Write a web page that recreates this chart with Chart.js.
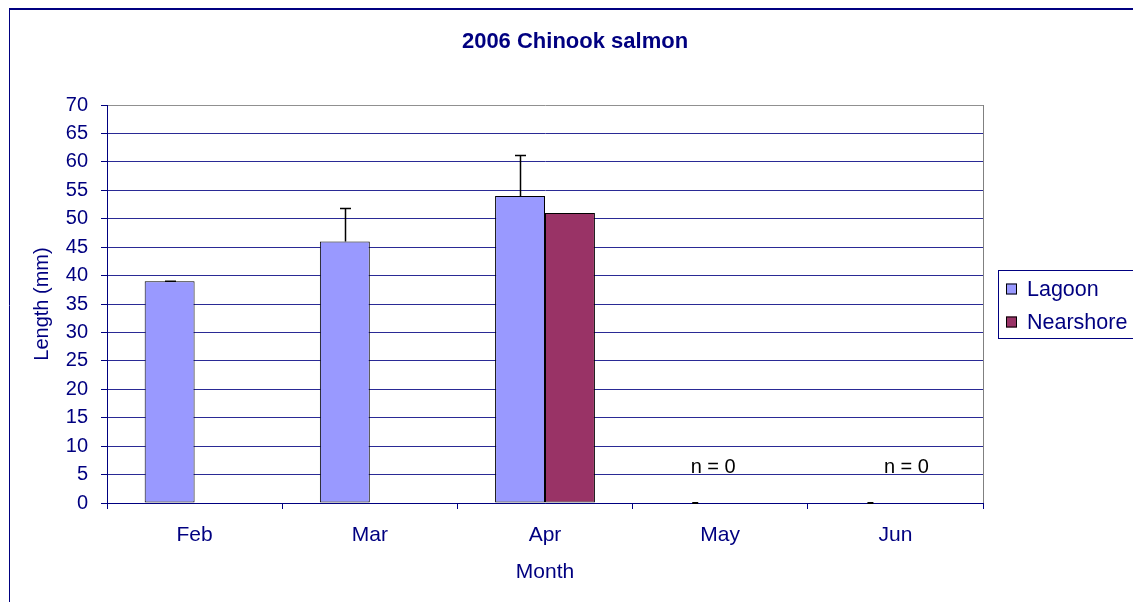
<!DOCTYPE html>
<html>
<head>
<meta charset="utf-8">
<script src="https://cdn.jsdelivr.net/npm/chart.js@4.4.1/dist/chart.umd.min.js"></script>
<style>
  html, body { margin: 0; padding: 0; background: #ffffff; }
  #wrap { width: 1133px; height: 602px; position: relative; }
</style>
</head>
<body>
<div id="wrap"><canvas id="c" width="1133" height="602"></canvas></div>
<script>
// ---- data ----
const chartTitle = '2006 Chinook salmon';
const months = ['Feb', 'Mar', 'Apr', 'May', 'Jun'];
const lagoon = [39, 46, 54, 0, 0];
const lagoonErr = [0, 5.8, 7.1, null, null];
const nearshore = [null, null, 51, null, null];
const yTicks = [0, 5, 10, 15, 20, 25, 30, 35, 40, 45, 50, 55, 60, 65, 70];
const noteMonths = ['May', 'Jun'];
const noteValues = [6.2, 6.2];
const noteTexts = ['n = 0', 'n = 0'];
const noteShift = [-7, 11];

const NAVY = '#000080';
const GRID = '#2a2a95';
const FONT = "'Liberation Sans', Arial, sans-serif";

const framePlugin = {
  id: 'frame',
  beforeDraw(chart) {
    const ctx = chart.ctx;
    ctx.save();
    ctx.fillStyle = '#ffffff';
    ctx.fillRect(0, 0, chart.width, chart.height);
    ctx.strokeStyle = NAVY;
    ctx.lineWidth = 2;
    ctx.beginPath();
    ctx.moveTo(9, 9); ctx.lineTo(chart.width, 9);
    ctx.stroke();
    ctx.lineWidth = 1;
    ctx.beginPath();
    ctx.moveTo(9.5, 9); ctx.lineTo(9.5, chart.height);
    ctx.stroke();
    // title
    ctx.fillStyle = NAVY;
    ctx.font = 'bold 22px ' + FONT;
    ctx.textAlign = 'center';
    ctx.textBaseline = 'middle';
    ctx.fillText(chartTitle, 575, 42);
    ctx.restore();
  },
  afterDraw(chart) {
    const ctx = chart.ctx;
    const a = chart.chartArea;
    const y = chart.scales.y;
    const x = chart.scales.x;
    ctx.save();
    // right plot border (grey)
    ctx.strokeStyle = '#808080';
    ctx.lineWidth = 1;
    ctx.beginPath();
    ctx.moveTo(Math.round(a.right) + 0.5, a.top);
    ctx.lineTo(Math.round(a.right) + 0.5, a.bottom);
    ctx.stroke();

    // error bars on Lagoon
    const meta = chart.getDatasetMeta(0);
    ctx.strokeStyle = '#000000';
    ctx.lineWidth = 1.5;
    lagoonErr.forEach((e, i) => {
      if (e === null || lagoon[i] === null) return;
      const bar = meta.data[i];
      const cx = Math.round(bar.x) + 0.5;
      const yTop = y.getPixelForValue(lagoon[i]);
      const yErr = y.getPixelForValue(lagoon[i] + e);
      ctx.beginPath();
      ctx.moveTo(cx, yTop); ctx.lineTo(cx, yErr);
      ctx.moveTo(cx - 5.5, yErr); ctx.lineTo(cx + 5.5, yErr);
      ctx.stroke();
    });
    // zero-height bar dashes
    ctx.lineWidth = 2;
    lagoon.forEach((v, i) => {
      if (v !== 0) return;
      const bar = meta.data[i];
      const yb = y.getPixelForValue(0);
      ctx.beginPath();
      ctx.moveTo(bar.x - 3, yb); ctx.lineTo(bar.x + 3, yb);
      ctx.stroke();
    });

    // n = 0 notes
    ctx.fillStyle = '#000000';
    ctx.font = '20px ' + FONT;
    ctx.textAlign = 'center';
    ctx.textBaseline = 'middle';
    noteMonths.forEach((m, i) => {
      const px = x.getPixelForValue(months.indexOf(m)) + noteShift[i];
      const py = y.getPixelForValue(noteValues[i]);
      ctx.fillText(noteTexts[i], px, py);
    });

    // legend
    const lx = 998.5, ly = 270.5, lw = 160, lh = 68;
    ctx.strokeStyle = NAVY;
    ctx.lineWidth = 1;
    ctx.strokeRect(lx, ly, lw, lh);
    ctx.font = '21.5px ' + FONT;
    ctx.textAlign = 'left';
    chart.data.datasets.forEach((ds, i) => {
      const cy = 289 + i * 33;
      ctx.fillStyle = ds.backgroundColor;
      ctx.fillRect(1006, cy - 5.5, 11, 11);
      ctx.strokeStyle = '#000000';
      ctx.strokeRect(1006.5, cy - 5, 10, 10);
      ctx.fillStyle = NAVY;
      ctx.fillText(ds.label, 1027, cy + 1);
    });
    ctx.restore();
  }
};

new Chart(document.getElementById('c'), {
  type: 'bar',
  data: {
    labels: months,
    datasets: [
      { label: 'Lagoon', data: lagoon, backgroundColor: '#9999FF', borderColor: '#000000', borderWidth: 1, borderSkipped: false },
      { label: 'Nearshore', data: nearshore, backgroundColor: '#993366', borderColor: '#000000', borderWidth: 1, borderSkipped: false }
    ]
  },
  options: {
    responsive: false,
    animation: false,
    devicePixelRatio: 1,
    datasets: { bar: { categoryPercentage: 0.57, barPercentage: 1.0 } },
    layout: { padding: { top: 105, right: 150, bottom: 0, left: 0 } },
    plugins: {
      legend: { display: false },
      tooltip: { enabled: false },
      title: { display: false }
    },
    scales: {
      x: {
        offset: true,
        grid: { display: true, drawOnChartArea: false, drawTicks: true, tickLength: 6, color: NAVY, offset: true },
        border: { display: true, color: NAVY, width: 1 },
        ticks: { color: NAVY, font: { family: FONT, size: 21 }, padding: 14, maxRotation: 0 },
        title: { display: true, text: 'Month', color: NAVY, font: { family: FONT, size: 21, lineHeight: 1.2 }, padding: { top: 0, bottom: 17 } },
        afterFit(s) { s.height = 99; }
      },
      y: {
        min: 0, max: 70,
        afterBuildTicks(s) { s.ticks = yTicks.map(v => ({ value: v })); },
        grid: {
          color: (c) => (c.tick && c.tick.value === 70) ? '#909090' : GRID,
          tickColor: NAVY,
          tickLength: 6, lineWidth: 1
        },
        border: { display: true, color: NAVY, width: 1 },
        ticks: { color: NAVY, font: { family: FONT, size: 20 }, padding: 13 },
        title: { display: true, text: 'Length (mm)', color: NAVY, font: { family: FONT, size: 20, lineHeight: 1.2 }, padding: { top: 30, bottom: 0 } },
        afterFit(s) { s.width = 107; }
      }
    }
  },
  plugins: [framePlugin]
});
</script>
</body>
</html>
